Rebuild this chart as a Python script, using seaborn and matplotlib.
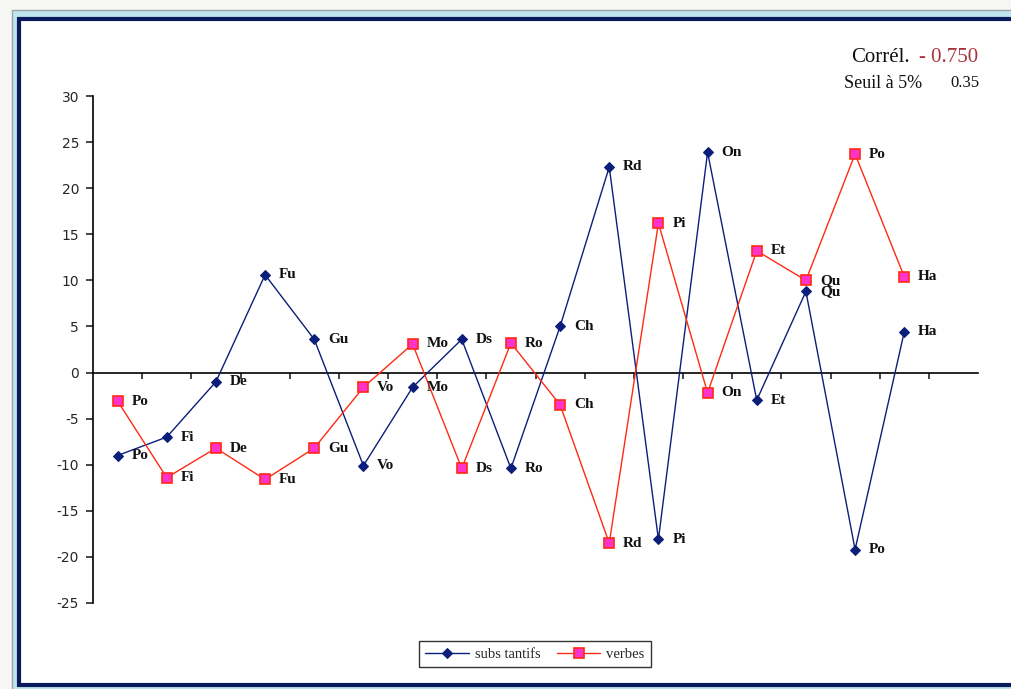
import matplotlib
matplotlib.use("Agg")
import matplotlib.pyplot as plt
from matplotlib.patches import Rectangle
import numpy as np
import pandas as pd
import seaborn as sns

# Text categories (abbreviated) in order along the axis
categories = ["Po", "Fi", "De", "Fu", "Gu", "Vo", "Mo", "Ds", "Ro",
              "Ch", "Rd", "Pi", "On", "Et", "Qu", "Po", "Ha"]
# Standardised deviations per category
substantifs = [-9.0, -7.0, -1.0, 10.6, 3.6, -10.1, -1.6, 3.6, -10.4,
               5.0, 22.3, -18.1, 23.9, -3.0, 8.8, -19.2, 4.4]
verbes = [-3.1, -11.4, -8.2, -11.6, -8.2, -1.6, 3.1, -10.4, 3.2,
          -3.5, -18.5, 16.2, -2.2, 13.2, 10.0, 23.7, 10.4]
y_ticks = [30, 25, 20, 15, 10, 5, 0, -5, -10, -15, -20, -25]
corr_label = "Corrél."
corr_value = "- 0.750"
threshold_label = "Seuil à 5%"
threshold_value = "0.35"

n_slots = len(categories) + 1  # one empty slot at the end of the axis
pos = np.arange(len(categories)) + 0.5
df = pd.DataFrame({"pos": pos, "cat": categories,
                   "substantifs": substantifs, "verbes": verbes})

sns.set_style("white")
plt.rcParams["font.family"] = ["Liberation Serif", "DejaVu Serif"]

fig = plt.figure(figsize=(10.11, 6.89), dpi=100)
fig.patch.set_facecolor("#f6f7f4")

# window-like frame around the chart area
fig.patches.append(Rectangle((12 / 1011, 1 - 700 / 689), 1.1, (700 - 10) / 689,
                             transform=fig.transFigure, facecolor="#bfe6ee",
                             edgecolor="#9aa4a8", linewidth=1.0, zorder=-2))
fig.patches.append(Rectangle((19 / 1011, 1 - 685 / 689), 1.1, (685 - 19) / 689,
                             transform=fig.transFigure, facecolor="white",
                             edgecolor="#0a1a5c", linewidth=3.0, zorder=-1))

ax = fig.add_axes([93 / 1011, 1 - 603 / 689, (978 - 93) / 1011, (603 - 96) / 689])
ax.set_zorder(2)
ax.set_facecolor("none")
ax.patch.set_alpha(0)

navy = "#0b1f7a"
red = "#ff2a12"
sns.lineplot(data=df, x="pos", y="substantifs", ax=ax, color=navy, linewidth=1.0,
             marker="D", markersize=5.5, markerfacecolor=navy, markeredgecolor=navy,
             label="subs tantifs", zorder=3)
sns.lineplot(data=df, x="pos", y="verbes", ax=ax, color=red, linewidth=1.0,
             marker="s", markersize=6.5, markerfacecolor="#ff33cc", markeredgecolor=red,
             markeredgewidth=1.2, label="verbes", zorder=3)

for col in ("substantifs", "verbes"):
    for xv, yv, name in zip(df["pos"], df[col], df["cat"]):
        ax.annotate(name, (xv, yv), xytext=(10, 0), textcoords="offset points",
                    va="center", ha="left", fontsize=11, fontweight="bold",
                    color="#111111")

ax.set_xlim(0, n_slots)
ax.set_ylim(-25, 30)
ax.set_yticks(y_ticks)
ax.set_yticklabels([str(t) for t in y_ticks], fontfamily="DejaVu Sans", fontsize=10)
ax.set_xticks(np.arange(1, n_slots))
ax.set_xticklabels([])
ax.set_xlabel("")
ax.set_ylabel("")
for side in ("top", "right"):
    ax.spines[side].set_visible(False)
ax.spines["bottom"].set_position(("data", 0))
ax.spines["left"].set_color("black")
ax.spines["bottom"].set_color("black")
ax.spines["left"].set_linewidth(1.2)
ax.spines["bottom"].set_linewidth(1.2)
ax.tick_params(axis="y", direction="out", length=5, width=1.2, left=True, pad=5)
ax.tick_params(axis="x", direction="out", length=4, width=1.2, bottom=True)

leg = ax.legend(loc="center", bbox_to_anchor=(535 / 1011, 1 - 654 / 689),
                bbox_transform=fig.transFigure, ncol=2, fontsize=10.5,
                frameon=True, fancybox=False, edgecolor="black", handlelength=3.0,
                columnspacing=1.1, handletextpad=0.4, borderpad=0.45)
leg.get_frame().set_linewidth(1.0)

fig.text(851 / 1011, 1 - 57 / 689, corr_label, fontsize=15, va="center", ha="left", color="#111111")
fig.text(919 / 1011, 1 - 57 / 689, corr_value, fontsize=15, va="center", ha="left", color="#a8323a")
fig.text(844 / 1011, 1 - 83 / 689, threshold_label, fontsize=13, va="center", ha="left", color="#111111")
fig.text(950 / 1011, 1 - 83 / 689, threshold_value, fontsize=12, va="center", ha="left", color="#111111")

fig.savefig("out.png", dpi=100)
